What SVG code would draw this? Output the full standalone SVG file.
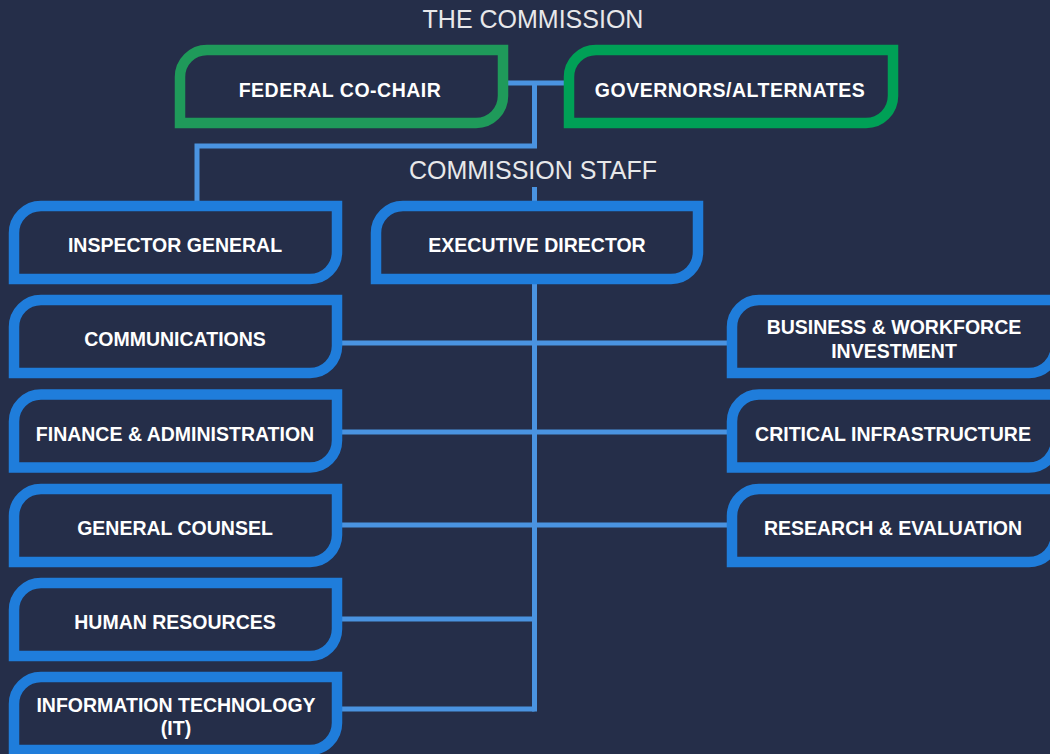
<svg xmlns="http://www.w3.org/2000/svg" width="1050" height="754" viewBox="0 0 1050 754">
  <style>
    .bg { fill: #252e49; }
    .box { fill: #252e49; stroke-width: 10.5; stroke-linejoin: miter; }
    .blue { stroke: #1f7ddb; }
    .green1 { stroke: #1f9a5a; }
    .green2 { stroke: #00a056; }
    .link { fill: none; stroke: #4a93e0; stroke-width: 5; stroke-linecap: butt; }
    .label { font-family: "Liberation Sans", Arial, sans-serif; font-weight: 700; font-size: 19.5px; fill: #ffffff; text-anchor: middle; }
    .wide { letter-spacing: 0.5px; }
    .heading { font-family: "Liberation Sans", Arial, sans-serif; font-weight: 400; font-size: 25px; fill: #e8e8ea; text-anchor: middle; }
  </style>

  <rect class="bg" x="0" y="0" width="1050" height="754"/>

  <!-- section headings -->
  <text class="heading" x="533" y="28">THE COMMISSION</text>
  <text class="heading" x="533" y="179">COMMISSION STAFF</text>

  <!-- connectors -->
  <g id="connectors">
    <path class="link" d="M507,83 H565"/>
    <path class="link" d="M534.5,83 V146 H197 V202"/>
    <path class="link" d="M534.5,187 V202"/>
    <path class="link" d="M534.5,283 V711.5"/>
    <path class="link" d="M341,343 H728"/>
    <path class="link" d="M341,432 H728"/>
    <path class="link" d="M341,525 H728"/>
    <path class="link" d="M341,619 H534.5"/>
    <path class="link" d="M341,709 H534.5"/>
  </g>

  <!-- commission -->
  <g id="federal-co-chair">
    <path class="box green1" d="M180,123 V77 A27,27 0 0 1 207,50 H503 V96 A27,27 0 0 1 476,123 Z"/>
    <text class="label wide" x="340" y="97">FEDERAL CO-CHAIR</text>
  </g>
  <g id="governors-alternates">
    <path class="box green2" d="M569,123 V77 A27,27 0 0 1 596,50 H893 V96 A27,27 0 0 1 866,123 Z"/>
    <text class="label wide" x="730" y="97">GOVERNORS/ALTERNATES</text>
  </g>

  <!-- staff -->
  <g id="inspector-general">
    <path class="box blue" d="M14,279 V233 A27,27 0 0 1 41,206 H337 V252 A27,27 0 0 1 310,279 Z"/>
    <text class="label" x="175" y="252">INSPECTOR GENERAL</text>
  </g>
  <g id="executive-director">
    <path class="box blue" d="M376,279 V233 A27,27 0 0 1 403,206 H698 V252 A27,27 0 0 1 671,279 Z"/>
    <text class="label" x="537" y="252">EXECUTIVE DIRECTOR</text>
  </g>

  <g id="communications">
    <path class="box blue" d="M14,373 V327 A27,27 0 0 1 41,300 H337 V346 A27,27 0 0 1 310,373 Z"/>
    <text class="label" x="175" y="345.5">COMMUNICATIONS</text>
  </g>
  <g id="finance-administration">
    <path class="box blue" d="M14,467.5 V421.5 A27,27 0 0 1 41,394.5 H337 V440.5 A27,27 0 0 1 310,467.5 Z"/>
    <text class="label" x="175" y="440.5">FINANCE &amp; ADMINISTRATION</text>
  </g>
  <g id="general-counsel">
    <path class="box blue" d="M14,562 V516 A27,27 0 0 1 41,489 H337 V535 A27,27 0 0 1 310,562 Z"/>
    <text class="label" x="175" y="535">GENERAL COUNSEL</text>
  </g>
  <g id="human-resources">
    <path class="box blue" d="M14,656 V610 A27,27 0 0 1 41,583 H337 V629 A27,27 0 0 1 310,656 Z"/>
    <text class="label" x="175" y="628.5">HUMAN RESOURCES</text>
  </g>
  <g id="information-technology">
    <path class="box blue" d="M14,750 V704 A27,27 0 0 1 41,677 H337 V723 A27,27 0 0 1 310,750 Z"/>
    <text class="label" x="176" y="711.5">INFORMATION TECHNOLOGY</text>
    <text class="label" x="176" y="734.5">(IT)</text>
  </g>

  <g id="business-workforce">
    <path class="box blue" d="M732,373 V327 A27,27 0 0 1 759,300 H1056 V346 A27,27 0 0 1 1029,373 Z"/>
    <text class="label" x="894" y="334">BUSINESS &amp; WORKFORCE</text>
    <text class="label" x="894" y="357.5">INVESTMENT</text>
  </g>
  <g id="critical-infrastructure">
    <path class="box blue" d="M732,467.5 V421.5 A27,27 0 0 1 759,394.5 H1056 V440.5 A27,27 0 0 1 1029,467.5 Z"/>
    <text class="label" x="893" y="440.5">CRITICAL INFRASTRUCTURE</text>
  </g>
  <g id="research-evaluation">
    <path class="box blue" d="M732,562 V516 A27,27 0 0 1 759,489 H1056 V535 A27,27 0 0 1 1029,562 Z"/>
    <text class="label" x="893" y="535">RESEARCH &amp; EVALUATION</text>
  </g>
</svg>
